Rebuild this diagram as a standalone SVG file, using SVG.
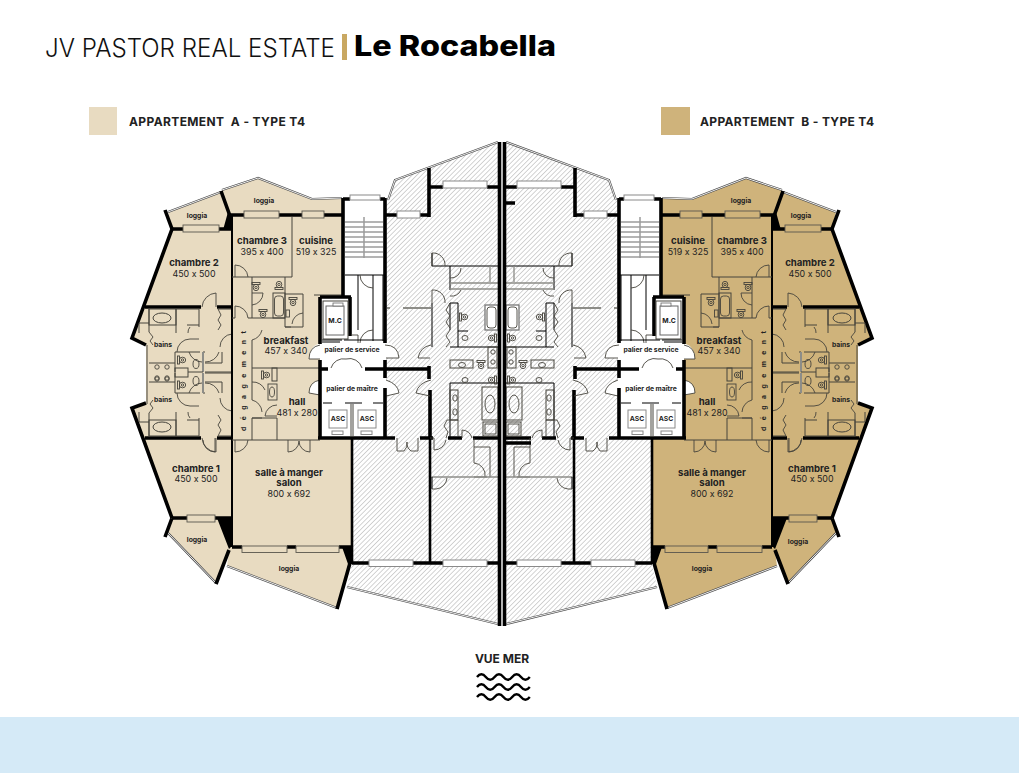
<svg xmlns="http://www.w3.org/2000/svg" width="1019" height="773" viewBox="0 0 1019 773">
<style>
text{font-family:"Inter","Liberation Sans",sans-serif;fill:#222;text-anchor:middle;font-feature-settings:"calt" 0}
.title{font-size:25px;font-weight:300;text-anchor:start;fill:#111}
.brand{font-size:28px;font-weight:800;text-anchor:start;fill:#000}
.leg{font-size:12px;font-weight:700;text-anchor:start}
.n{font-size:9.6px;font-weight:700}
.s{font-size:8.9px;font-weight:400}
.x{font-size:6.8px;font-weight:700}
.vm{font-size:12px;font-weight:700}
.w{stroke:#000;stroke-width:3.6;fill:none}
.w2{stroke:#000;stroke-width:2.6;fill:none}
.t{stroke:#46443c;stroke-width:1;fill:none}
.k{stroke:#000;stroke-width:1;fill:none}
.g{stroke:#8d8d88;stroke-width:2;fill:none}
.tr{stroke:#b4b4b4;stroke-width:2;fill:none}
.win{stroke:#5a574e;stroke-width:.9;fill:none}
.wh{stroke:#8a8a8a;stroke-width:1;fill:#fff}
.sh{stroke:#46443c;stroke-width:.9;fill:none}
.r1{stroke:#4a4a4a;stroke-width:2.2;fill:none}
.r2{stroke:#fff;stroke-width:.9;fill:none}
</style>
<defs>
<pattern id="h" patternUnits="userSpaceOnUse" width="3.4" height="3.4" patternTransform="rotate(45)">
<rect width="3.4" height="3.4" fill="#fff"/><line x1="0" y1="0" x2="0" y2="3.4" stroke="#a8a8a8" stroke-width="1"/>
</pattern>
<g id="wc"><rect x="-3.5" y="-4" width="2" height="8" class="sh"/><ellipse cx="1.5" cy="0" rx="3.2" ry="2.8" class="sh"/><circle cx="1.5" cy="0" r="1.2" class="sh"/></g>
<path id="railpath" d="M168,212 L221,192 M222,190 L258,178 L312,199 L342,198 M227,566 L337,608 M168,533 L216,583 M498,142 L395,180 L388,200 M347,587 L498,624"/>
<g id="bains">
<path class="w" d="M145,307 H201 M217,307 H232"/>
<rect x="149" y="309" width="27" height="16" class="t"/><ellipse cx="162" cy="318" rx="9" ry="5" class="t"/>
<path class="t" d="M176,309 V333 M176,309 H199 V327 M187,325 H199 M218,309 H231 M139,323 H149 M139,323 V333 M149,309 V332 M205,352 H203 M175,352 H200 M175,352 V372 M222,352 V363 H205 M205,373 H231 M149,363 H175"/>
<path class="sh" d="M149,332 L153,337 L150,341 L153,345 M218,309 L221,315 L218,320 L221,325 L218,330 M190,327 A8,8 0 0 0 188,333"/>
<path class="sh" d="M177,352 A13,13 0 0 1 190,339 H199 M232,334 A13,13 0 0 0 220,347 M202,307 A15,15 0 0 1 216,293 V307"/>
<path class="sh" d="M189,352 A14,14 0 0 0 202,362 M205,362 A14,14 0 0 0 219,352"/>
<path class="g" d="M203,352 V372"/>
<use href="#wc" x="181" y="360"/>
<ellipse cx="196" cy="364" rx="3" ry="4.5" class="sh"/>
<circle cx="157" cy="367" r="2.2" class="sh"/><circle cx="167" cy="367" r="2.2" class="sh"/>
</g>
<g id="plan">
<path fill="#fff" d="M320,341 H385 Q398,345 399,358 H386 V368 H320 V359 H309 Q309,347 320,343 Z"/>
<path fill="#fff" d="M320,368 H386 V380 Q398,384 399,393 L386,396 V403 H320 V395 L309,393 Q309,382 320,380 Z"/>
<rect x="320" y="403" width="66" height="35" fill="#fff"/>
<rect x="322" y="297" width="28" height="44" fill="#fff"/>
<path class="w" d="M165,210 L172,229 L132,338 L146,345 M221,191 L230,216 M146,403 L132,408 L172,518 M165,537 L172,518 M229,550 L216,584 M350,563 L337,609"/>
<path d="M223,230 L232,230 L232,215 L228,212 Z M217,518 L231,518 L231,547 L229,549 Z M342,547 L352,547 L352,564 L348,564 Z"/>
<path class="w" d="M172,229 H183 M219,229 H232 M230,215 H244 M279,215 H302 M324,215 H343 M172,518 H187 M215,518 H232 M232,547 H242 M287,547 H296 M339,547 H352"/>
<rect class="win" x="183" y="225" width="36" height="7"/>
<rect class="win" x="244" y="211" width="35" height="7"/>
<rect class="win" x="302" y="211" width="22" height="7"/>
<rect class="win" x="187" y="515" width="28" height="7"/>
<rect class="win" x="242" y="546" width="45" height="6.5"/>
<rect class="win" x="296" y="546" width="43" height="6.5"/>
<use href="#bains"/>
<use href="#bains" transform="matrix(1 0 0 -1 0 745)"/>
<path class="t" d="M147,345 V404"/>
<rect x="175" y="368" width="13" height="9" class="t"/>
<path class="t" d="M188,372 H203"/>
<circle cx="157" cy="379" r="2.2" class="sh"/><circle cx="167" cy="379" r="2.2" class="sh"/>
<path stroke="#000" stroke-width="2" fill="none" d="M232,215 V547"/>
<path class="t" d="M292,217 V277 M232,277 H292 M252,277 V318 M252,318 H285 M252,340 V368 M252,368 H320 M252,368 V400 M252,418 H277 V440 M252,418 V440 M232,440 H320 M285,277 V294 H303 V327 H285 V294 M314,295 H342 M232,318 H235 M248,318 H252"/>
<path class="sh" d="M235,265 V277 M235,265 A13,13 0 0 1 248,277 M235,306 V318 M235,306 A13,13 0 0 1 248,318 M252,305 A12,12 0 0 0 263,293 H252 M292,324 A12,12 0 0 1 303,313 M285,327 H291 M252,340 A14,14 0 0 0 262,330 M252,382 A13,13 0 0 1 265,390 M277,405 A12,12 0 0 0 265,416 H277 M252,400 A13,13 0 0 1 262,412 M252,418 H262"/>
<use href="#wc" x="256" y="286" transform="rotate(90 256 286)"/>
<use href="#wc" x="279" y="286" transform="rotate(-90 279 286)"/>
<use href="#wc" x="263" y="313" transform="rotate(90 263 313)"/>
<use href="#wc" x="293" y="301" transform="rotate(90 293 301)"/>
<use href="#wc" x="265" y="375"/>
<rect x="273" y="293" width="12" height="25" class="t"/><rect x="274.5" y="296" width="9" height="20" rx="3" class="sh"/>
<rect x="286" y="310" width="3.5" height="7" class="sh"/>
<rect x="272" y="368" width="5" height="13" class="t"/>
<rect x="268" y="384" width="9" height="16" class="sh"/><ellipse cx="272" cy="392" rx="2.5" ry="5" class="sh"/>
<path class="sh" d="M235,440 V452 A13,13 0 0 0 248,440 M203,440 A12,12 0 0 0 215,452 V438 M288,440 V452 A11,11 0 0 0 299,441 A11,11 0 0 0 310,452 V440"/>
<path class="w" d="M343,198 V297 M385,198 V343 M343,199 H350 M380,199 H385 M320,297 H351 M320,297 V344 M350,297 V336"/>
<rect x="350" y="195" width="30" height="5" class="wh"/>
<path class="tr" d="M345,222 H383 M345,227 H383 M345,232 H383 M345,237 H383 M345,242 H383 M345,247 H383 M345,252 H383 M345,257 H383"/>
<path stroke="#9b9b9b" stroke-width="1.5" d="M364,217 V258"/>
<path class="k" d="M345,275 H384 M358,275 V330 M373,275 V341 M383,275 V341"/>
<path class="sh" d="M360,275 A13,13 0 0 0 373,288"/>
<path class="sh" d="M360,343 A13,13 0 0 1 373,330 M351,335 H358 V343"/>
<rect x="323" y="301" width="25" height="38" class="t"/>
<rect x="326" y="306" width="18" height="29" fill="#fff" stroke="#666" stroke-width="1"/>
<rect x="333" y="303" width="10" height="3" fill="#fff" stroke="#666" stroke-width=".8"/>
<path class="k" d="M322,340 H342 M322,342 H340 M344,340 H384"/>
<path class="sh" d="M320,345 Q309,347 309,359 H320 M385,345 Q398,345 399,358 H386 M331,368 A13,13 0 0 1 346,359 A13,13 0 0 1 362,368"/>
<path class="sh" d="M320,380 Q309,382 309,393 L320,395 M386,380 Q398,384 399,393 L386,396"/>
<path class="w" d="M320,369 H328 M365,369 H430 M320,360 V378 M385,360 V378 M320,375 V438 M385,388 V438 M318,438 H395 M420,438 H433 M448,438 H462 M473,438 H498"/>
<path class="w" d="M429,366 V379 M430,390 V438"/>
<path class="k" d="M323,403 H332 M345,403 H362 M373,403 H383"/>
<rect x="329" y="410" width="18" height="18" class="wh"/>
<rect x="358" y="410" width="18" height="18" class="wh"/>
<rect x="332" y="431" width="11" height="3.5" class="wh"/>
<rect x="361" y="431" width="11" height="3.5" class="wh"/>
<path class="t" d="M351,404 V437 M353,404 V437"/>
<path class="w2" d="M352,438 V563"/>
<path class="w2" d="M430,438 V563"/>
<path class="w" d="M352,563 H369 M413,563 H443 M487,563 H498 M429,168 V217 M429,187 H443 M487,187 H498 M385,215 H397 M420,215 H429"/>
<rect class="wh" x="369" y="560" width="44" height="6.5"/>
<rect class="wh" x="443" y="560" width="44" height="6.5"/>
<rect class="wh" x="443" y="181" width="44" height="7"/>
<rect class="wh" x="397" y="211" width="23" height="7"/>
<path class="g" d="M387,308 H390 M403,308 H431"/>
<path class="k" d="M432,253 V266 H498 M450,266 V290 M432,303 V347 M450,303 H458 V347 M450,347 H498 M458,331 H468 M450,303 V330 M450,383 V438 M450,383 H498"/>
<path class="g" style="stroke-width:1.3" d="M450,283 H498 M450,289 H498 M490,266 V282"/>
<path class="sh" d="M432,266 V253 A12,12 0 0 1 445,266 M450,278 A10,10 0 0 0 461,268 M432,303 V290 A12,12 0 0 1 445,303 M450,296 A10,10 0 0 0 461,290 M450,303 L446,310 L450,316 L446,322 L450,328 M450,330 L446,336 L450,342 L446,347"/>
<rect x="485" y="305" width="13" height="25" stroke="#777" stroke-width="1.3" fill="#fff"/><rect x="487" y="307" width="9" height="21" rx="3" class="sh"/>
<use href="#wc" x="463" y="317"/>
<use href="#wc" x="493" y="338" transform="rotate(180 493 338)"/>
<ellipse cx="465" cy="338" rx="3" ry="2.5" class="sh"/>
<rect x="450" y="360" width="23" height="8" class="t"/><ellipse cx="462" cy="365" rx="3.5" ry="2.5" class="sh"/>
<use href="#wc" x="481" y="364" transform="rotate(90 481 364)"/>
<rect x="488" y="347" width="9" height="21" class="t"/><circle cx="493" cy="352" r="2.2" class="sh"/><circle cx="493" cy="362" r="2.2" class="sh"/>
<use href="#wc" x="493" y="380" transform="rotate(180 493 380)"/><ellipse cx="465" cy="380" rx="3" ry="2.5" class="sh"/>
<rect x="482" y="387" width="16" height="33" class="t"/><ellipse cx="490" cy="404" rx="5" ry="9" class="sh"/>
<rect x="483" y="422" width="15" height="14" class="t"/><rect x="485" y="424" width="11" height="10" class="sh"/>
<rect x="450" y="390" width="8" height="30" class="t"/><ellipse cx="455" cy="398" rx="2.2" ry="3.2" class="sh"/><ellipse cx="455" cy="412" rx="2.2" ry="3.2" class="sh"/>
<path class="sh" d="M458,420 V436 M458,420 H447 L444,426 L448,432 L446,438 M462,438 V430 A11,11 0 0 1 472,438 M430,438 H434 V450 A12,12 0 0 0 446,440 M474,438 V447 H490 V477 M474,447 V463 A12,12 0 0 1 485,477 M474,477 H487"/>
<path class="g" style="stroke-width:1.3" d="M431,477 H498"/>
<path class="k" d="M432,477 V489"/>
<path class="sh" d="M436,489 H432 M436,489 A12,12 0 0 0 447,478 M397,438 V451 H404 A10,10 0 0 0 407,442 A10,10 0 0 0 411,451 H418 V438"/>
<path class="sh" d="M431,345 Q420,347 418,358 H430 M431,380 Q418,383 416,393 L430,396"/>
</g>
</defs>

<rect id="bg" width="1019" height="773" fill="#fff"/>
<rect id="sea" x="0" y="717" width="1019" height="56" fill="#d5eaf7"/>

<g id="header">
<text class="title" x="45" y="57" textLength="290" lengthAdjust="spacingAndGlyphs">JV PASTOR REAL ESTATE</text>
<rect x="342" y="34" width="5" height="26" fill="#c9a862"/>
<text class="brand" x="354" y="56" textLength="202" lengthAdjust="spacingAndGlyphs">Le Rocabella</text>
</g>
<g id="legend-a">
<rect x="89" y="107" width="28" height="28" fill="#e8dbc1"/>
<text class="leg" x="129" y="125.500" textLength="176" xml:space="preserve">APPARTEMENT  A - TYPE T4</text>
</g>
<g id="legend-b">
<rect x="661" y="107" width="29" height="28" fill="#cfb37b"/>
<text class="leg" x="700" y="125.500" textLength="174" xml:space="preserve">APPARTEMENT  B - TYPE T4</text>
</g>

<g id="common-areas">
<polygon fill="url(#h)" points="498,143 395,180 388,200 386,200 386,438 352,438 352,563 347,587 498,624"/>
<polygon fill="url(#h)" points="506,143 609,180 616,200 618,200 618,438 652,438 652,563 657,587 506,624"/>
</g>

<g id="apartment-a">
<polygon fill="#e8dbc1" points="168,212 221,191 258,178 312,199 343,198 343,297 320,297 320,438 352,438 352,563 350,563 337,608 227,566 229,551 216,583 168,533 172,518 132,408 146,403 146,345 132,338 172,229"/>
</g>
<g id="apartment-b">
<polygon fill="#cfb37b" transform="matrix(-1 0 0 1 1004 0)" points="168,212 221,191 258,178 312,199 343,198 343,297 320,297 320,438 352,438 352,563 350,563 337,608 227,566 229,551 216,583 168,533 172,518 132,408 146,403 146,345 132,338 172,229"/>
</g>

<g id="connectors">
<use href="#railpath" class="r1"/>
<use href="#railpath" class="r2"/>
<use href="#railpath" class="r1" transform="matrix(-1 0 0 1 1004 0)"/>
<use href="#railpath" class="r2" transform="matrix(-1 0 0 1 1004 0)"/>
<use href="#plan"/>
<use href="#plan" transform="matrix(-1 0 0 1 1004 0)"/>
<path class="w" d="M499.5,142 V626 M504.5,142 V626 M506,203 H515 M506,443 H531"/>
</g>

<g id="labels-a">
<text class="x" x="197" y="218">loggia</text>
<text class="x" x="264" y="203">loggia</text>
<text class="n" x="194" y="266">chambre 2</text><text class="s" x="194" y="277">450 x 500</text>
<text class="n" x="262" y="244">chambre 3</text><text class="s" x="262" y="255">395 x 400</text>
<text class="n" x="316" y="244">cuisine</text><text class="s" x="316" y="255">519 x 325</text>
<text class="n" x="286" y="344">breakfast</text><text class="s" x="286" y="354">457 x 340</text>
<text class="n" x="297" y="405">hall</text><text class="s" x="297" y="416">481 x 280</text>
<text class="n" x="196" y="472">chambre 1</text><text class="s" x="196" y="482">450 x 500</text>
<text class="n" x="289" y="476">salle à manger</text><text class="n" x="289" y="486">salon</text><text class="s" x="289" y="497">800 x 692</text>
<text class="x" x="197" y="542">loggia</text>
<text class="x" x="289" y="571">loggia</text>
<text class="x" x="163" y="347">bains</text>
<text class="x" x="163" y="402">bains</text>
<text class="x" x="352" y="352">palier de service</text>
<text class="x" x="352" y="391">palier de maître</text>
<text class="x" x="335" y="323">M.C</text>
<text class="x" x="338" y="421">ASC</text>
<text class="x" x="367" y="421">ASC</text>
<text class="x" transform="translate(246 381) rotate(-90)" textLength="100">dégagement</text>
</g>
<g id="labels-b">
<text class="x" x="741" y="203">loggia</text>
<text class="x" x="801" y="218">loggia</text>
<text class="n" x="810" y="266">chambre 2</text><text class="s" x="810" y="277">450 x 500</text>
<text class="n" x="742" y="244">chambre 3</text><text class="s" x="742" y="255">395 x 400</text>
<text class="n" x="688" y="244">cuisine</text><text class="s" x="688" y="255">519 x 325</text>
<text class="n" x="719" y="344">breakfast</text><text class="s" x="719" y="354">457 x 340</text>
<text class="n" x="707" y="405">hall</text><text class="s" x="707" y="416">481 x 280</text>
<text class="n" x="812" y="472">chambre 1</text><text class="s" x="812" y="482">450 x 500</text>
<text class="n" x="712" y="476">salle à manger</text><text class="n" x="712" y="486">salon</text><text class="s" x="712" y="497">800 x 692</text>
<text class="x" x="798" y="544">loggia</text>
<text class="x" x="702" y="571">loggia</text>
<text class="x" x="841" y="347">bains</text>
<text class="x" x="841" y="402">bains</text>
<text class="x" x="651" y="352">palier de service</text>
<text class="x" x="651" y="391">palier de maître</text>
<text class="x" x="669" y="323">M.C</text>
<text class="x" x="637" y="421">ASC</text>
<text class="x" x="666" y="421">ASC</text>
<text class="x" transform="translate(766 381) rotate(-90)" textLength="100">dégagement</text>
</g>

<g id="vue-mer">
<text class="vm" x="502" y="662.5">VUE MER</text>
<path fill="none" stroke="#000" stroke-width="2.4" d="M477,677 q4.400,-5.500 8.800,0 t8.800,0 t8.800,0 t8.800,0 t8.800,0 t8.800,0 M477,687 q4.400,-5.500 8.800,0 t8.800,0 t8.800,0 t8.800,0 t8.800,0 t8.800,0 M477,697 q4.400,-5.500 8.800,0 t8.800,0 t8.800,0 t8.800,0 t8.800,0 t8.800,0"/>
</g>
</svg>
